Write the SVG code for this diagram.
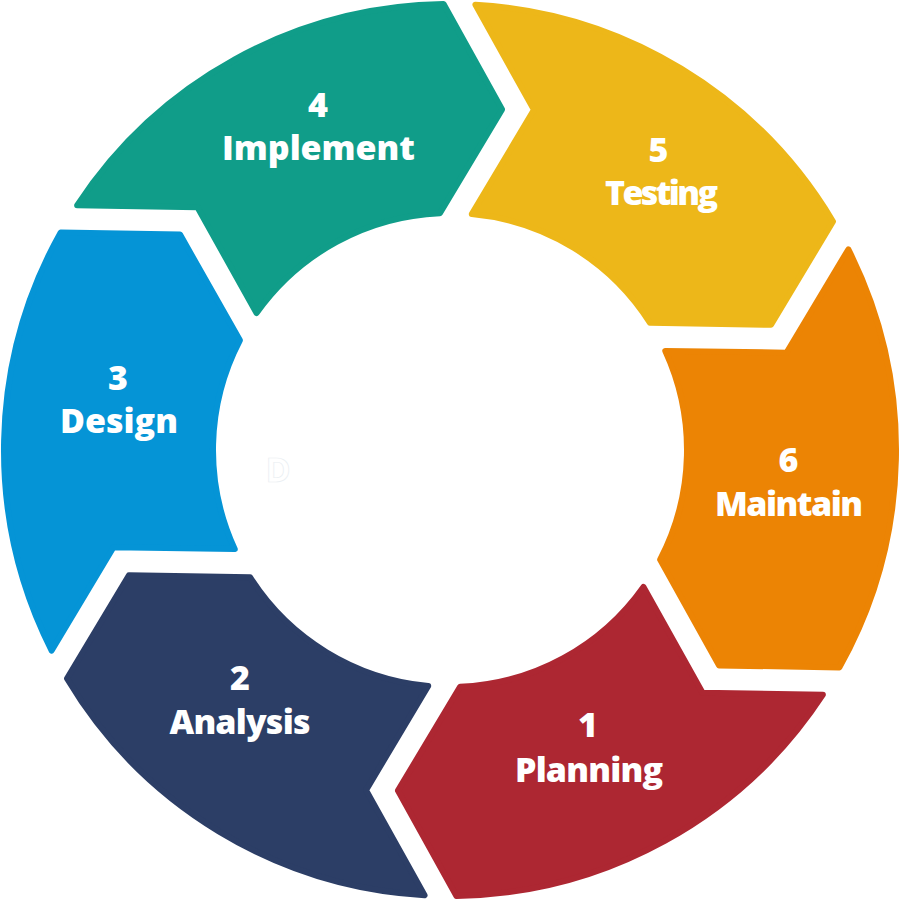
<svg xmlns="http://www.w3.org/2000/svg" width="900" height="900" viewBox="0 0 900 900">
<style>
.seg{stroke-width:6;stroke-linejoin:round}
.lbl{font-family:"Open Sans","Liberation Sans",sans-serif;font-weight:800;font-size:34px;fill:#ffffff;text-anchor:middle}
</style>
<rect width="900" height="900" fill="#ffffff"/>
<g id="planning">
<path class="seg" fill="#AD2732" stroke="#AD2732" d="M 822.89,694.69 A 446 446 0 0 1 456.45,895.95 L 397.94,790.64 L 460.10,686.78 A 237 237 0 0 0 643.47,586.89 L 702.53,692.77 Z"/>
<text class="lbl" x="588" y="737">1</text>
<text class="lbl" x="589" y="782" textLength="148" lengthAdjust="spacing">Planning</text>
</g>
<g id="analysis">
<path class="seg" fill="#2C3E66" stroke="#2C3E66" d="M 424.54,895.27 A 446 446 0 0 1 67.01,678.56 L 128.96,575.23 L 249.99,577.14 A 237 237 0 0 0 428.19,686.00 L 366.02,790.09 Z"/>
<text class="lbl" x="240" y="690">2</text>
<text class="lbl" x="240" y="734" textLength="141" lengthAdjust="spacing">Analysis</text>
</g>
<g id="design">
<path class="seg" fill="#0594D6" stroke="#0594D6" d="M 51.65,650.58 A 446 446 0 0 1 60.57,232.60 L 180.02,234.59 L 239.89,340.35 A 237 237 0 0 0 234.71,549.11 L 113.49,547.32 Z"/>
<text class="lbl" x="118" y="390">3</text>
<text class="lbl" x="119" y="433" textLength="118" lengthAdjust="spacing">Design</text>
</g>
<g id="implement">
<path class="seg" fill="#109D89" stroke="#109D89" d="M 77.11,205.31 A 446 446 0 0 1 443.55,4.05 L 502.06,109.36 L 439.90,213.22 A 237 237 0 0 0 256.53,313.11 L 197.47,207.23 Z"/>
<text class="lbl" x="318" y="117">4</text>
<text class="lbl" x="318.5" y="160" textLength="193" lengthAdjust="spacing">Implement</text>
</g>
<g id="testing">
<path class="seg" fill="#EDB719" stroke="#EDB719" d="M 475.46,4.73 A 446 446 0 0 1 832.99,221.44 L 771.04,324.77 L 650.01,322.86 A 237 237 0 0 0 471.81,214.00 L 533.98,109.91 Z"/>
<text class="lbl" x="658.5" y="162">5</text>
<text class="lbl" x="661.5" y="205" textLength="113" lengthAdjust="spacing">Testing</text>
</g>
<g id="maintain">
<path class="seg" fill="#EC8404" stroke="#EC8404" d="M 848.35,249.42 A 446 446 0 0 1 839.43,667.40 L 718.97,665.41 L 660.11,559.65 A 237 237 0 0 0 665.29,350.89 L 786.51,352.68 Z"/>
<text class="lbl" x="788.5" y="472">6</text>
<text class="lbl" x="789" y="516" textLength="148" lengthAdjust="spacing">Maintain</text>
</g>
<g id="connectors"></g>
<text x="278" y="482" font-family="Open Sans, sans-serif" font-weight="700" font-size="34" fill="#ffffff" stroke="#e9eef2" stroke-width="0.7" text-anchor="middle">D</text>
</svg>
